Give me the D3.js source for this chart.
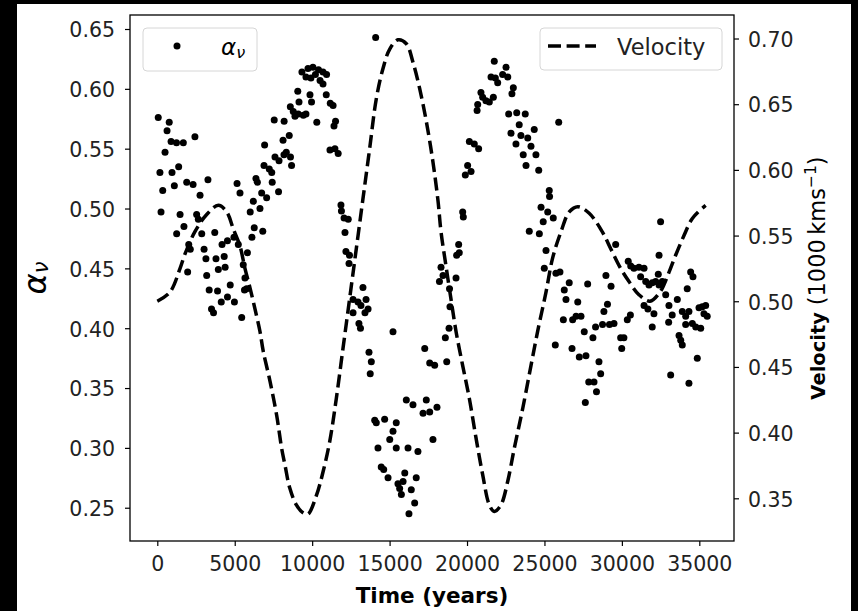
<!DOCTYPE html>
<html>
<head>
<meta charset="utf-8">
<script src="https://cdn.jsdelivr.net/npm/d3@7"></script>
<style>
body { margin: 0; background: #000; }
text { font-family: "DejaVu Sans", sans-serif; }
</style>
</head>
<body>
<div id="chart"></div>
<script>
// alpha_nu scatter (time in years, alpha value)
var alphaTime = [
    60, 770, 630, 500, 890, 1240, 1680, 2430, 170, 950, 1380, 350, 1100, 1900, 2310, 3270, 2760, 240, 1470, 1720,
    1250, 2540, 2650, 2030, 2130, 1960, 2870, 3710, 4180, 4530, 4950, 3020, 3140, 3790, 4320, 4380, 3940, 3190, 3350, 3890,
    4710, 4130, 4530, 4980, 3500, 3630, 5450, 5630, 5770, 5660, 5550, 5820, 5230, 6260, 6810, 6110, 6000, 6200, 6630, 5150,
    5340, 6370, 6460, 6740, 7060, 6890, 7230, 7390, 7420, 7830, 6930, 7550, 8190, 8120, 8520, 7600, 7860, 8180, 8670, 8600,
    8330, 8890, 9100, 9430, 9600, 8590, 8780, 9070, 9150, 9860, 9960, 10910, 11170, 11350, 10300, 11410, 11510, 11150, 11470, 11680,
    9340, 9600, 9730, 9920, 10050, 10210, 10410, 10700, 10930, 10510, 10700, 11860, 11890, 12060, 12330, 12120, 12180, 12410, 12380, 12640,
    12960, 13150, 13280, 13480, 13610, 13410, 13020, 13120, 12640, 15220, 13670, 13820, 13750, 14100, 14040, 14140, 14680, 15430, 15220, 15010,
    14250, 15430, 16190, 16830, 14460, 14620, 14900, 15540, 15870, 15980, 15650, 15760, 16400, 16720, 16620, 16250, 17800, 16080, 16510, 17370,
    17160, 17590, 18060, 17270, 17590, 17910, 18690, 18320, 18450, 18220, 18870, 19290, 18900, 18840, 18600, 19460, 19500, 19330, 19720, 19760,
    20040, 20260, 19890, 20150, 20470, 20750, 20900, 21010, 21220, 21440, 21700, 20690, 20650, 21760, 21550, 21830, 21980, 22300, 22520, 22630,
    22990, 22900, 22690, 23210, 23760, 23370, 22840, 23160, 23480, 23920, 24340, 24130, 24450, 23630, 23810, 24630, 25920, 25310, 25330, 24780,
    25210, 25570, 24920, 24020, 24670, 25100, 24990, 25740, 26000, 26600, 26280, 26390, 27790, 27150, 26220, 26820, 27040, 27360, 27570, 25700,
    26780, 27250, 27680, 27860, 27640, 28200, 28360, 28970, 29300, 29070, 28840, 28750, 29200, 29490, 28300, 28130, 29920, 30130, 29990, 30350,
    30550, 28520, 28630, 32500, 32400, 32350, 29600, 30410, 30570, 30780, 31100, 31430, 31210, 31540, 31750, 31960, 32180, 32400, 32610, 31430,
    31680, 32830, 33040, 33580, 33900, 34120, 34330, 32070, 31960, 33020, 33250, 33690, 33800, 33900, 34120, 34550, 34770, 35090, 34980, 35190,
    35410, 35510, 35300, 34220, 34440, 34590, 34870, 33150, 34330
]
var alphaValue = [
    0.576, 0.572, 0.565, 0.547, 0.556, 0.555, 0.555, 0.560, 0.530, 0.530, 0.535, 0.515, 0.519, 0.522, 0.520, 0.524, 0.511, 0.497, 0.495, 0.485,
    0.479, 0.495, 0.491, 0.470, 0.466, 0.447, 0.479, 0.480, 0.470, 0.473, 0.476, 0.466, 0.458, 0.458, 0.460, 0.451, 0.449, 0.444, 0.432, 0.431,
    0.436, 0.422, 0.426, 0.422, 0.416, 0.413, 0.409, 0.432, 0.433, 0.442, 0.453, 0.463, 0.470, 0.484, 0.481, 0.476, 0.497, 0.506, 0.500, 0.521,
    0.513, 0.525, 0.522, 0.513, 0.509, 0.536, 0.533, 0.530, 0.522, 0.514, 0.553, 0.574, 0.573, 0.557, 0.561, 0.543, 0.540, 0.545, 0.536, 0.543,
    0.547, 0.577, 0.579, 0.578, 0.579, 0.585, 0.581, 0.598, 0.589, 0.595, 0.589, 0.595, 0.588, 0.586, 0.572, 0.569, 0.573, 0.549, 0.550, 0.546,
    0.614, 0.610, 0.617, 0.609, 0.618, 0.612, 0.616, 0.614, 0.612, 0.607, 0.604, 0.503, 0.498, 0.492, 0.491, 0.480, 0.464, 0.461, 0.454, 0.424,
    0.422, 0.419, 0.434, 0.424, 0.416, 0.413, 0.404, 0.400, 0.413, 0.397, 0.380, 0.372, 0.362, 0.643, 0.323, 0.321, 0.324, 0.321, 0.314, 0.307,
    0.300, 0.300, 0.300, 0.297, 0.284, 0.282, 0.275, 0.270, 0.272, 0.279, 0.266, 0.261, 0.265, 0.275, 0.254, 0.245, 0.307, 0.340, 0.336, 0.340,
    0.329, 0.330, 0.334, 0.383, 0.371, 0.369, 0.372, 0.451, 0.444, 0.439, 0.433, 0.442, 0.418, 0.400, 0.392, 0.470, 0.463, 0.461, 0.497, 0.493,
    0.536, 0.531, 0.528, 0.556, 0.554, 0.550, 0.597, 0.593, 0.590, 0.589, 0.593, 0.587, 0.582, 0.623, 0.610, 0.609, 0.605, 0.612, 0.618, 0.610,
    0.601, 0.596, 0.579, 0.580, 0.579, 0.570, 0.563, 0.554, 0.561, 0.559, 0.566, 0.552, 0.545, 0.545, 0.536, 0.532, 0.572, 0.515, 0.510, 0.501,
    0.497, 0.492, 0.489, 0.481, 0.479, 0.465, 0.450, 0.446, 0.447, 0.438, 0.432, 0.424, 0.437, 0.422, 0.407, 0.407, 0.410, 0.410, 0.397, 0.386,
    0.383, 0.376, 0.377, 0.355, 0.338, 0.355, 0.347, 0.444, 0.435, 0.420, 0.414, 0.403, 0.403, 0.404, 0.401, 0.392, 0.392, 0.392, 0.383, 0.407,
    0.411, 0.372, 0.362, 0.489, 0.461, 0.445, 0.470, 0.456, 0.452, 0.450, 0.451, 0.450, 0.443, 0.439, 0.436, 0.438, 0.439, 0.436, 0.439, 0.419,
    0.416, 0.428, 0.419, 0.424, 0.414, 0.410, 0.414, 0.412, 0.401, 0.405, 0.411, 0.394, 0.390, 0.386, 0.403, 0.404, 0.401, 0.400, 0.417, 0.418,
    0.419, 0.410, 0.412, 0.433, 0.447, 0.443, 0.375, 0.361, 0.354
]

// velocity curve (1000 km/s)
var velTime = [0, 820, 1470, 1790, 2430, 3190, 3940, 4480, 4910, 5340, 5660, 5990, 6310, 6630, 6840, 7280, 7710, 8030, 8250, 8550,
    8980, 9410, 9730, 10270, 10700, 11130, 11560, 11990, 12420, 12850, 13280, 13710, 14140, 14570, 15010, 15540, 16080, 16510, 16940, 17370,
    17800, 18130, 18320, 18640, 18960, 19290, 19720, 20150, 20580, 21010, 21440, 21760, 22190, 22630, 23050, 23590, 24130, 24560, 25100, 25530,
    26070, 26600, 27150, 27890, 28730, 29280, 29920, 30460, 31100, 31810, 32460, 33040, 33470, 34010, 34550, 35410]
var velValue = [0.500, 0.507, 0.525, 0.536, 0.553, 0.566, 0.573, 0.568, 0.555, 0.542, 0.525, 0.510, 0.494, 0.477, 0.462, 0.439, 0.413, 0.388, 0.375, 0.358,
    0.345, 0.339, 0.338, 0.352, 0.370, 0.393, 0.426, 0.464, 0.502, 0.540, 0.578, 0.616, 0.654, 0.677, 0.692, 0.699, 0.696, 0.682, 0.662, 0.637,
    0.606, 0.576, 0.553, 0.527, 0.502, 0.477, 0.451, 0.426, 0.396, 0.368, 0.345, 0.340, 0.345, 0.363, 0.388, 0.418, 0.451, 0.477, 0.507, 0.533,
    0.553, 0.568, 0.572, 0.567, 0.553, 0.540, 0.525, 0.515, 0.505, 0.500, 0.507, 0.522, 0.535, 0.550, 0.563, 0.573]

var xTicks = [0, 5000, 10000, 15000, 20000, 25000, 30000, 35000]
var leftTicks = [0.25, 0.30, 0.35, 0.40, 0.45, 0.50, 0.55, 0.60, 0.65]
var rightTicks = [0.35, 0.40, 0.45, 0.50, 0.55, 0.60, 0.65, 0.70]

var chart_width = 858
var chart_height = 611
var plot_left = 130, plot_right = 734, plot_top = 15, plot_bottom = 541

var svg = d3.select('#chart')
    .append('svg')
    .attr('width', chart_width)
    .attr('height', chart_height)

// black frame around a white figure
svg.append('rect')
    .attr('width', chart_width)
    .attr('height', chart_height)
    .attr('fill', '#000')
svg.append('rect')
    .attr('x', 17)
    .attr('y', 4)
    .attr('width', 834)
    .attr('height', 607)
    .attr('fill', '#fff')

var xScale = d3.scaleLinear().domain([-1763, 37240]).range([plot_left, plot_right])
var yLeft = d3.scaleLinear().domain([0.2222, 0.6617]).range([plot_bottom, plot_top])
var yRight = d3.scaleLinear().domain([0.3175, 0.7179]).range([plot_bottom, plot_top])

// scatter
var points = alphaTime.map(function(t, i){ return [t, alphaValue[i]] })
svg.append('g')
    .selectAll('circle')
    .data(points)
    .enter()
    .append('circle')
    .attr('cx', function(d){ return xScale(d[0]) })
    .attr('cy', function(d){ return yLeft(d[1]) })
    .attr('r', 3.5)
    .attr('fill', '#000')

// velocity dashed line
var vel = velTime.map(function(t, i){ return [t, velValue[i]] })
var line = d3.line()
    .x(function(d){ return xScale(d[0]) })
    .y(function(d){ return yRight(d[1]) })
    .curve(d3.curveCatmullRom)
svg.append('path')
    .datum(vel)
    .attr('d', line)
    .attr('fill', 'none')
    .attr('stroke', '#000')
    .attr('stroke-width', 3.5)
    .attr('stroke-dasharray', '13,5.6')

// axes
function styleAxis(g){
    g.select('.domain').remove()
    g.selectAll('line').attr('stroke', '#000').attr('stroke-width', 1.2)
    g.selectAll('text')
        .attr('font-family', 'DejaVu Sans')
        .attr('font-size', 20.5)
        .attr('fill', '#222')
}

svg.append('g')
    .attr('transform', 'translate(0,' + plot_bottom + ')')
    .call(d3.axisBottom(xScale).tickValues(xTicks).tickSize(5).tickPadding(10).tickFormat(d3.format('d')))
    .call(styleAxis)

svg.append('g')
    .attr('transform', 'translate(' + plot_left + ',0)')
    .call(d3.axisLeft(yLeft).tickValues(leftTicks).tickSize(5).tickPadding(10).tickFormat(d3.format('.2f')))
    .call(styleAxis)
    .selectAll('text').attr('dy', '0.38em')

svg.append('g')
    .attr('transform', 'translate(' + plot_right + ',0)')
    .call(d3.axisRight(yRight).tickValues(rightTicks).tickSize(5).tickPadding(9).tickFormat(d3.format('.2f')))
    .call(styleAxis)
    .selectAll('text').attr('dy', '0.38em')

// spines
svg.append('rect')
    .attr('x', plot_left)
    .attr('y', plot_top)
    .attr('width', plot_right - plot_left)
    .attr('height', plot_bottom - plot_top)
    .attr('fill', 'none')
    .attr('stroke', '#000')
    .attr('stroke-width', 1.3)

// axis titles
svg.append('text')
    .attr('x', (plot_left + plot_right) / 2)
    .attr('y', 603)
    .attr('text-anchor', 'middle')
    .attr('font-size', 21.5)
    .attr('font-weight', 'bold')
    .text('Time (years)')

var yl = svg.append('text')
    .attr('transform', 'translate(46,' + (plot_top + plot_bottom) / 2 + ') rotate(-90)')
    .attr('text-anchor', 'middle')
yl.append('tspan').attr('font-size', 32).attr('font-style', 'italic').text('α')
yl.append('tspan').attr('font-size', 21).attr('font-style', 'italic').attr('dy', 2).text('ν')

var yr = svg.append('text')
    .attr('transform', 'translate(825,' + (plot_top + plot_bottom) / 2 + ') rotate(-90)')
    .attr('text-anchor', 'middle')
    .attr('font-size', 22.5)
yr.append('tspan').attr('font-weight', 'bold').attr('font-size', 19.5).text('Velocity ')
yr.append('tspan').text('(1000\u2009kms')
yr.append('tspan').attr('font-size', 15.5).attr('dy', -9).text('\u22121')
yr.append('tspan').attr('dy', 9).text(')')

// legends
var lg1 = svg.append('g')
lg1.append('rect')
    .attr('x', 143).attr('y', 28).attr('width', 114).attr('height', 43)
    .attr('rx', 4)
    .attr('fill', '#fff').attr('fill-opacity', 0.8)
    .attr('stroke', '#d6d6d6')
lg1.append('circle').attr('cx', 177).attr('cy', 46).attr('r', 3.5).attr('fill', '#000')
var lt1 = lg1.append('text').attr('x', 221).attr('y', 55).attr('font-size', 23)
lt1.append('tspan').attr('font-style', 'italic').text('α')
lt1.append('tspan').attr('font-style', 'italic').attr('font-size', 16).attr('dy', 3).text('ν')

var lg2 = svg.append('g')
lg2.append('rect')
    .attr('x', 540).attr('y', 28).attr('width', 182).attr('height', 42)
    .attr('rx', 4)
    .attr('fill', '#fff').attr('fill-opacity', 0.8)
    .attr('stroke', '#d6d6d6')
lg2.append('line')
    .attr('x1', 548).attr('x2', 596).attr('y1', 46).attr('y2', 46)
    .attr('stroke', '#000').attr('stroke-width', 3.5)
    .attr('stroke-dasharray', '13,5.6')
lg2.append('text')
    .attr('x', 617).attr('y', 55)
    .attr('font-size', 22.5)
    .attr('fill', '#222')
    .text('Velocity')
</script>
</body>
</html>
